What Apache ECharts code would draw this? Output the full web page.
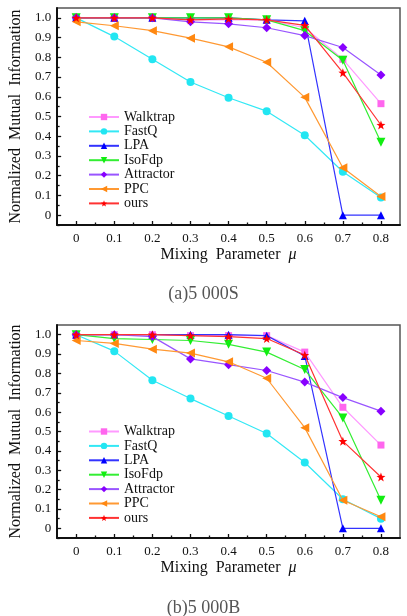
<!DOCTYPE html>
<html><head><meta charset="utf-8">
<script src="https://cdn.jsdelivr.net/npm/echarts@6/dist/echarts.min.js"></script>
<style>html,body{margin:0;padding:0;background:#fff}#c{width:407px;height:616px}</style>
</head><body><div id="c"></div>
<script>
const xValues = [0, 0.1, 0.2, 0.3, 0.4, 0.5, 0.6, 0.7, 0.8];
const seriesNames = ['Walktrap', 'FastQ', 'LPA', 'IsoFdp', 'Attractor', 'PPC', 'ours'];
// (a) 5000S
const walktrapA = [1.0, 1.0, 1.0, 0.99, 0.99, 0.99, 0.95, 0.79, 0.565];
const fastqA    = [1.0, 0.905, 0.79, 0.675, 0.595, 0.527, 0.405, 0.22, 0.09];
const lpaA      = [1.0, 1.0, 1.0, 1.0, 1.0, 0.99, 0.985, 0, 0];
const isofdpA   = [1.0, 1.0, 1.0, 1.0, 1.0, 0.99, 0.935, 0.785, 0.37];
const attractorA= [1.0, 1.0, 1.0, 0.98, 0.97, 0.95, 0.91, 0.85, 0.71];
const ppcA      = [0.98, 0.96, 0.935, 0.897, 0.853, 0.775, 0.597, 0.24, 0.095];
const oursA     = [1.0, 1.0, 1.0, 0.99, 0.995, 0.99, 0.962, 0.722, 0.457];
// (b) 5000B
const walktrapB = [1.0, 1.0, 1.0, 0.995, 0.995, 0.995, 0.91, 0.625, 0.43];
const fastqB    = [1.0, 0.915, 0.765, 0.67, 0.58, 0.49, 0.34, 0.15, 0.05];
const lpaB      = [1.0, 1.0, 1.0, 1.0, 1.0, 0.995, 0.89, 0, 0];
const isofdpB   = [1.0, 0.98, 0.975, 0.97, 0.95, 0.91, 0.82, 0.57, 0.145];
const attractorB= [1.0, 1.0, 0.99, 0.875, 0.845, 0.815, 0.755, 0.675, 0.605];
const ppcB      = [0.97, 0.955, 0.925, 0.905, 0.86, 0.775, 0.52, 0.145, 0.06];
const oursB     = [1.0, 1.0, 1.0, 0.995, 0.99, 0.98, 0.895, 0.45, 0.265];

const xTicks = [0, 0.1, 0.2, 0.3, 0.4, 0.5, 0.6, 0.7, 0.8];
const xMinorTicks = [0.05, 0.15, 0.25, 0.35, 0.45, 0.55, 0.65, 0.75];
const yTicks = [0, 0.1, 0.2, 0.3, 0.4, 0.5, 0.6, 0.7, 0.8, 0.9, 1.0];
const yMinorTicks = [-0.05, 0.05, 0.15, 0.25, 0.35, 0.45, 0.55, 0.65, 0.75, 0.85, 0.95];
const captions = ['(a)5 000S', '(b)5 000B'];

const FONT = '"Liberation Serif", "DejaVu Serif", serif';
const styles = [
  {line: '#ff99ff', fill: '#ff66ee', symbol: 'rect', size: 7},
  {line: '#33e8f5', fill: '#22e6f2', symbol: 'circle', size: 8},
  {line: '#3333ff', fill: '#0000ff', symbol: 'triangle', size: 8},
  {line: '#33ee33', fill: '#11ee11', symbol: 'path://M0,10 L-10,-7 L10,-7 Z', size: 9},
  {line: '#9955ff', fill: '#8800ff', symbol: 'diamond', size: 9},
  {line: '#ff9933', fill: '#ff8811', symbol: 'path://M-10,0 L7,-10 L7,10 Z', size: 9},
  {line: '#ff3333', fill: '#ff0000', symbol: 'path://M0,-10 L2.35,-3.24 L9.51,-3.09 L3.8,1.24 L5.88,8.09 L0,4 L-5.88,8.09 L-3.8,1.24 L-9.51,-3.09 L-2.35,-3.24 Z', size: 9}
];
const dataA = [walktrapA, fastqA, lpaA, isofdpA, attractorA, ppcA, oursA];
const dataB = [walktrapB, fastqB, lpaB, isofdpB, attractorB, ppcB, oursB];

const grids = [
  {left: 55, right: 7, top: 8, height: 217},
  {left: 55, right: 7, top: 325, height: 213}
];

const xAxes = [], yAxes = [];
grids.forEach((g, gi) => {
  xAxes.push({
    type: 'value', gridIndex: gi, min: -0.05, max: 0.85, position: 'bottom',
    name: '{a|Mixing  Parameter  }{i|μ}', nameLocation: 'middle', nameGap: 22,
    nameTextStyle: {rich: {a: {fontFamily: FONT, fontSize: 16, color: '#111'}, i: {fontFamily: FONT, fontSize: 16, fontStyle: 'italic', color: '#111'}}},
    axisLine: {show: true, onZero: false, lineStyle: {color: '#111', width: 2}},
    axisTick: {show: true, inside: true, length: 4, customValues: xTicks, lineStyle: {color: '#111', width: 1.3}},
    axisLabel: {show: true, customValues: xTicks, margin: 7, fontFamily: FONT, fontSize: 13, color: '#111',
      formatter: v => v === 0 ? '0' : v.toFixed(1)},
    splitLine: {show: false}
  });
  xAxes.push({
    type: 'value', gridIndex: gi, min: -0.05, max: 0.85, position: 'bottom',
    axisLine: {show: false, onZero: false}, axisLabel: {show: false}, splitLine: {show: false},
    axisTick: {show: true, inside: true, length: 2.5, customValues: xMinorTicks, lineStyle: {color: '#111', width: 1.3}}
  });
  yAxes.push({
    type: 'value', gridIndex: gi, min: -0.05, max: 1.05, position: 'left',
    name: 'Normalized  Mutual  Information', nameLocation: 'middle', nameRotate: 90, nameGap: 26,
    nameTextStyle: {fontFamily: FONT, fontSize: 16, color: '#111'},
    axisLine: {show: true, onZero: false, lineStyle: {color: '#111', width: 2}},
    axisTick: {show: true, inside: true, length: 4, customValues: yTicks, lineStyle: {color: '#111', width: 1.3}},
    axisLabel: {show: true, customValues: yTicks, margin: 6, fontFamily: FONT, fontSize: 13, color: '#111',
      formatter: v => v === 0 ? '0' : v.toFixed(1)},
    splitLine: {show: false}
  });
  yAxes.push({
    type: 'value', gridIndex: gi, min: -0.05, max: 1.05, position: 'left',
    axisLine: {show: false, onZero: false}, axisLabel: {show: false}, splitLine: {show: false},
    axisTick: {show: true, inside: true, length: 2.5, customValues: yMinorTicks, lineStyle: {color: '#111', width: 1.3}}
  });
});

const series = [];
[dataA, dataB].forEach((set, gi) => {
  set.forEach((vals, i) => {
    const s = styles[i];
    series.push({
      type: 'line', name: seriesNames[i], xAxisIndex: gi * 2, yAxisIndex: gi * 2,
      data: xValues.map((x, k) => [x, vals[k]]),
      symbol: s.symbol, symbolSize: s.size, showSymbol: true,
      lineStyle: {color: s.line, width: 1.2},
      itemStyle: {color: s.fill},
      animation: false, z: 2 + i
    });
  });
});

const legendBase = {
  orient: 'vertical', left: 88, padding: 0, itemWidth: 30, itemHeight: 8, itemGap: 0.4,
  textStyle: {fontFamily: FONT, fontSize: 14, color: '#111', lineHeight: 13, padding: [0, 0, 0, 0]},
  selectedMode: false, itemStyle: {borderWidth: 0}
};

const chart = echarts.init(document.getElementById('c'), null, {renderer: 'canvas'});
chart.setOption({
  animation: false,
  backgroundColor: '#fff',
  grid: grids.map(g => Object.assign({show: true, borderColor: '#555', borderWidth: 1.5, backgroundColor: 'transparent'}, g)),
  xAxis: xAxes,
  yAxis: yAxes,
  legend: [
    Object.assign({}, legendBase, {top: 110, data: seriesNames}),
    Object.assign({}, legendBase, {top: 424.5, data: seriesNames})
  ],
  graphic: [
    {type: 'text', left: 'center', top: 285, style: {text: captions[0], font: '18px ' + FONT, fill: '#555'}},
    {type: 'text', left: 'center', top: 599, style: {text: captions[1], font: '18px ' + FONT, fill: '#555'}}
  ],
  series: series
});
</script></body></html>
